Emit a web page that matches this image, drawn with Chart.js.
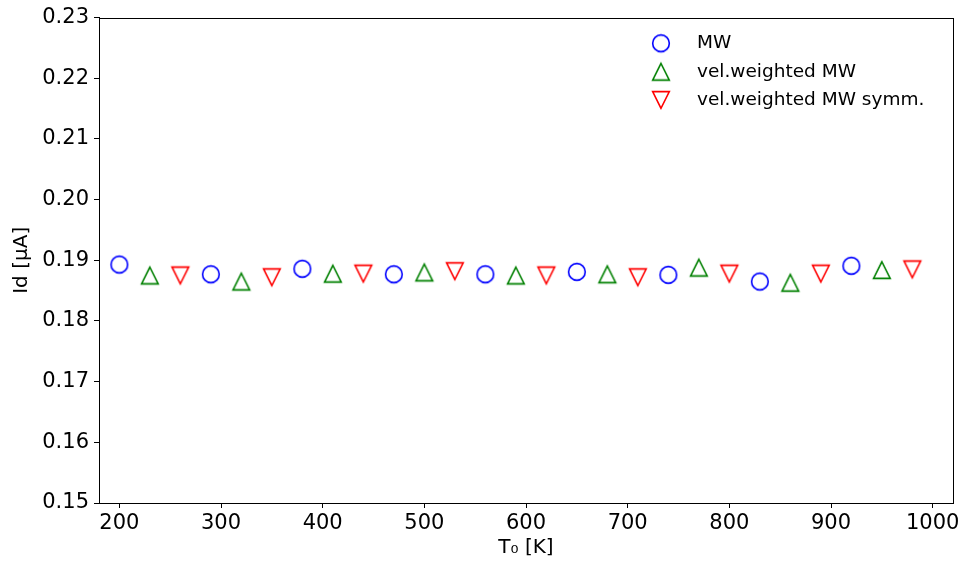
<!DOCTYPE html>
<html>
<head>
<meta charset="utf-8">
<script src="https://cdn.jsdelivr.net/npm/chart.js@4.4.1/dist/chart.umd.min.js"></script>
<style>
  html, body { margin: 0; padding: 0; background: #fff; }
  #wrap { width: 966px; height: 566px; }
</style>
</head>
<body>
<div id="wrap"><canvas id="chart" width="966" height="566"></canvas></div>
<script>
// Id vs T0 for the three MW variants

const tempMW = [200, 290, 380, 470, 560, 650, 740, 830, 920];
const tempVel = [230, 320, 410, 500, 590, 680, 770, 860, 950];
const tempSymm = [260, 350, 440, 530, 620, 710, 800, 890, 980];

const idMW = [0.1893, 0.1877, 0.1886, 0.1877, 0.1877, 0.1881, 0.1876, 0.1865, 0.1891];
const idVel = [0.1875, 0.1865, 0.1878, 0.1880, 0.1875, 0.1877, 0.1888, 0.1863, 0.1884];
const idSymm = [0.1875, 0.1872, 0.1878, 0.1882, 0.1875, 0.1872, 0.1878, 0.1878, 0.1885];

const seriesNames = ['MW', 'vel.weighted MW', 'vel.weighted MW symm.'];
const seriesColors = ['#0000ff', '#008000', '#ff0000'];
const yTicks = [0.15, 0.16, 0.17, 0.18, 0.19, 0.20, 0.21, 0.22, 0.23];
const xTicks = [200, 300, 400, 500, 600, 700, 800, 900, 1000];

const FONT = 'DejaVu Sans';

// matplotlib-like hollow markers (circle, up triangle, down triangle)
function makeMarker(kind, color) {
  const c = document.createElement('canvas');
  c.width = 22; c.height = 22;
  const g = c.getContext('2d');
  const r = 8.33;
  g.strokeStyle = color;
  g.lineWidth = 1.6;
  g.beginPath();
  if (kind === 'circle') {
    g.arc(11, 11, r, 0, Math.PI * 2);
  } else if (kind === 'up') {
    g.moveTo(11, 11 - r);
    g.lineTo(11 - r, 11 + r);
    g.lineTo(11 + r, 11 + r);
    g.closePath();
  } else {
    g.moveTo(11, 11 + r);
    g.lineTo(11 - r, 11 - r);
    g.lineTo(11 + r, 11 - r);
    g.closePath();
  }
  g.stroke();
  return c;
}

const markers = [
  makeMarker('circle', seriesColors[0]),
  makeMarker('up', seriesColors[1]),
  makeMarker('down', seriesColors[2])
];

function toPoints(xs, ys) {
  return xs.map((x, i) => ({ x: x, y: ys[i] }));
}

// frame around plot area
const framePlugin = {
  id: 'frame',
  afterDatasetsDraw(chart) {
    const a = chart.chartArea;
    const ctx = chart.ctx;
    ctx.save();
    ctx.strokeStyle = '#000';
    ctx.lineWidth = 1;
    ctx.strokeRect(Math.round(a.left) + 0.5, Math.round(a.top) + 0.5,
      Math.round(a.right - a.left), Math.round(a.bottom - a.top));
    ctx.restore();
  }
};

// legend without frame, top right inside axes
const legendPlugin = {
  id: 'innerLegend',
  afterDraw(chart) {
    const ctx = chart.ctx;
    ctx.save();
    ctx.font = '18.5px "' + FONT + '"';
    ctx.fillStyle = '#000';
    ctx.textBaseline = 'middle';
    ctx.textAlign = 'left';
    const ys = [43.3, 71.7, 100];
    seriesNames.forEach((name, i) => {
      const m = markers[i];
      ctx.drawImage(m, 661 - m.width / 2, ys[i] - m.height / 2);
      ctx.fillText(name, 697, ys[i]);
    });
    ctx.restore();
  }
};

new Chart(document.getElementById('chart'), {
  type: 'scatter',
  data: {
    datasets: [
      { label: seriesNames[0], data: toPoints(tempMW, idMW), pointStyle: markers[0], pointRadius: 9 },
      { label: seriesNames[1], data: toPoints(tempVel, idVel), pointStyle: markers[1], pointRadius: 9 },
      { label: seriesNames[2], data: toPoints(tempSymm, idSymm), pointStyle: markers[2], pointRadius: 9 }
    ]
  },
  options: {
    responsive: false,
    animation: false,
    events: [],
    layout: { padding: { left: 0, top: 16, right: 13, bottom: 0 } },
    plugins: {
      legend: { display: false },
      tooltip: { enabled: false }
    },
    scales: {
      x: {
        type: 'linear',
        min: 180,
        max: 1020,
        afterBuildTicks: (scale) => { scale.ticks = xTicks.map(v => ({ value: v })); },
        afterFit: (scale) => { scale.height = 63; },
        grid: { drawOnChartArea: false, drawTicks: true, tickLength: 5, color: '#000' },
        border: { display: true, color: '#000', width: 1 },
        ticks: {
          color: '#000',
          padding: 3,
          maxRotation: 0,
          font: { family: FONT, size: 21 },
          callback: (v) => String(v)
        },
        title: {
          display: true,
          text: 'T₀ [K]',
          color: '#000',
          padding: { top: 0, bottom: 6 },
          font: { family: FONT, size: 20 }
        }
      },
      y: {
        type: 'linear',
        min: 0.15,
        max: 0.23,
        afterBuildTicks: (scale) => { scale.ticks = yTicks.map(v => ({ value: v })); },
        afterFit: (scale) => { scale.width = 99; },
        grid: { drawOnChartArea: false, drawTicks: true, tickLength: 5, color: '#000' },
        border: { display: true, color: '#000', width: 1 },
        ticks: {
          color: '#000',
          padding: 5,
          font: { family: FONT, size: 21 },
          callback: (v) => Number(v).toFixed(2)
        },
        title: {
          display: true,
          text: 'Id [μA]',
          color: '#000',
          padding: { top: 10, bottom: 0 },
          font: { family: FONT, size: 20 }
        }
      }
    }
  },
  plugins: [framePlugin, legendPlugin]
});
</script>
</body>
</html>
